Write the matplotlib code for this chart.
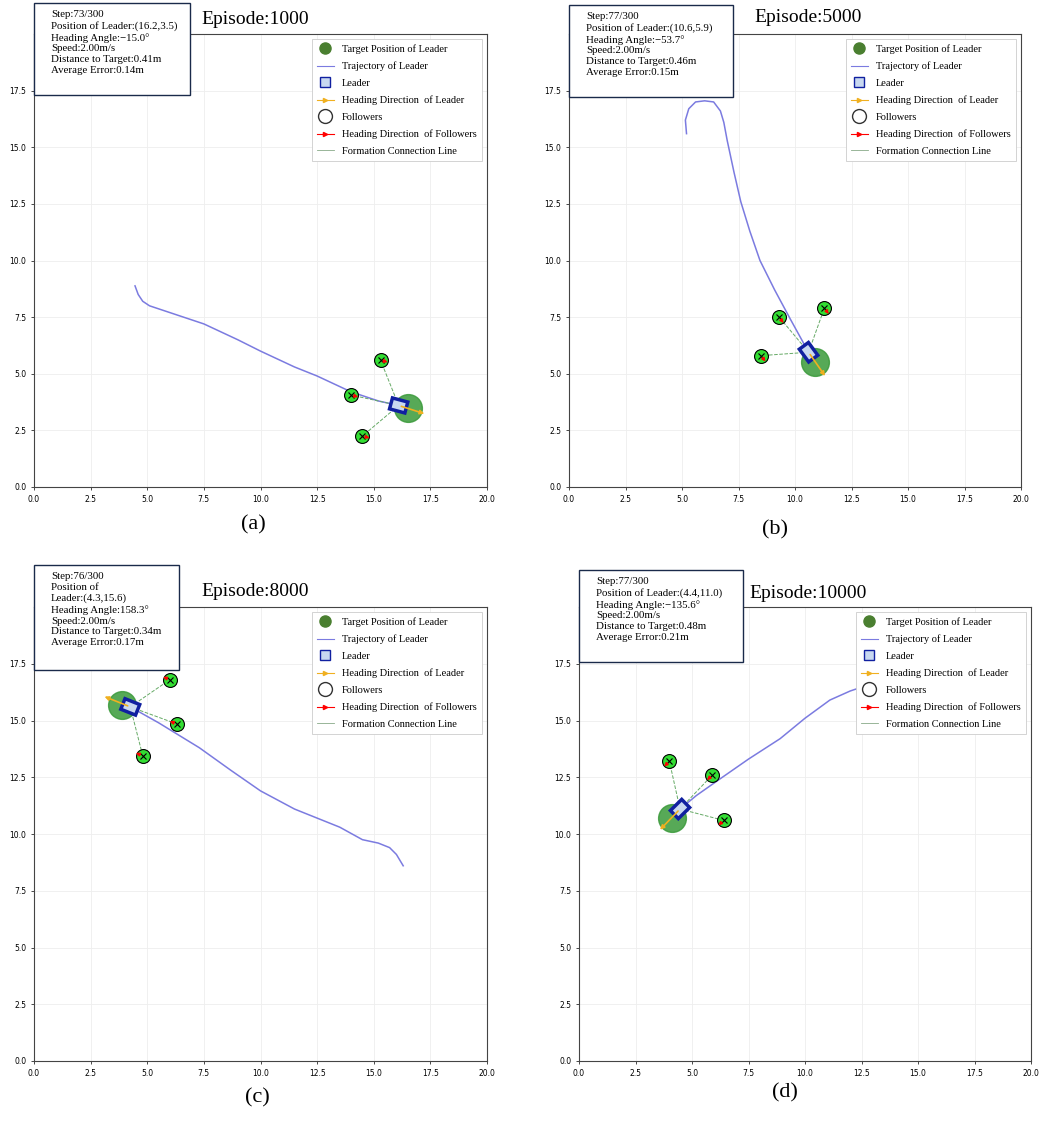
import matplotlib
matplotlib.use("Agg")
import matplotlib.pyplot as plt
from matplotlib.lines import Line2D
from matplotlib.patches import Rectangle
import numpy as np

W, H = 1049, 1121
episodes = ["Episode:1000", "Episode:5000", "Episode:8000", "Episode:10000"]
labels = ["(a)", "(b)", "(c)", "(d)"]
infos = [
    "Step:73/300\nPosition of Leader:(16.2,3.5)\nHeading Angle:\u221215.0\u00b0\nSpeed:2.00m/s\nDistance to Target:0.41m\nAverage Error:0.14m",
    "Step:77/300\nPosition of Leader:(10.6,5.9)\nHeading Angle:\u221253.7\u00b0\nSpeed:2.00m/s\nDistance to Target:0.46m\nAverage Error:0.15m",
    "Step:76/300\nPosition of\nLeader:(4.3,15.6)\nHeading Angle:158.3\u00b0\nSpeed:2.00m/s\nDistance to Target:0.34m\nAverage Error:0.17m",
    "Step:77/300\nPosition of Leader:(4.4,11.0)\nHeading Angle:\u2212135.6\u00b0\nSpeed:2.00m/s\nDistance to Target:0.48m\nAverage Error:0.21m",
]
traj_x = [
    [4.46, 4.6, 4.8, 5.1, 6.0, 7.5, 9.0, 10.0, 11.5, 12.5, 14.0, 15.2, 16.1],
    [5.2, 5.15, 5.3, 5.6, 6.0, 6.4, 6.7, 6.85, 7.0, 7.3, 7.6, 8.0, 8.45, 9.1, 9.8, 10.6],
    [4.25, 5.5, 7.3, 8.7, 10.0, 11.5, 13.5, 14.5, 15.2, 15.7, 16.0, 16.3],
    [4.47, 5.2, 6.2, 7.5, 8.9, 10.0, 11.1, 12.0, 12.9, 13.4],
]
traj_y = [
    [8.88, 8.5, 8.2, 8.0, 7.7, 7.2, 6.5, 6.0, 5.3, 4.9, 4.2, 3.8, 3.6],
    [15.6, 16.2, 16.7, 17.0, 17.05, 17.0, 16.6, 16.1, 15.3, 13.9, 12.6, 11.3, 10.0, 8.7, 7.4, 5.95],
    [15.6, 14.9, 13.8, 12.8, 11.9, 11.1, 10.3, 9.75, 9.6, 9.4, 9.1, 8.6],
    [11.1, 11.7, 12.4, 13.3, 14.2, 15.1, 15.9, 16.3, 16.6, 16.8],
]
leader = [(16.1, 3.6), (10.6, 5.95), (4.25, 15.6), (4.47, 11.1)]
heading = [-15.0, -53.7, 158.3, -135.6]
target = [(16.5, 3.5), (10.9, 5.5), (3.9, 15.7), (4.1, 10.7)]
arrow_end = [(17.35, 3.2), (11.4, 4.8), (3.0, 16.1), (3.5, 10.1)]
followers = [
    [(15.3, 5.6), (14.0, 4.06), (14.5, 2.25)],
    [(9.3, 7.5), (11.3, 7.9), (8.5, 5.8)],
    [(6.0, 16.8), (6.3, 14.85), (4.8, 13.45)],
    [(4.0, 13.2), (5.9, 12.6), (6.4, 10.6)],
]

boxes = [(34, 487, 34, 487), (569, 1021, 34, 487), (34, 487, 607, 1061), (579, 1031, 607, 1061)]
info_pos = [(34, 3, 190, 95), (569, 5, 733, 97), (34, 565, 179, 670), (579, 570, 743, 662)]
title_pos = [(255, 19), (808, 17), (255, 592), (808, 593)]
label_pos = [(253, 525), (775, 530), (257, 1098), (785, 1093)]

serif = ["Liberation Serif", "DejaVu Serif"]
fig = plt.figure(figsize=(W / 100, H / 100), dpi=100)

for i in range(4):
    l, r, t, b = boxes[i]
    ax = fig.add_axes([l / W, 1 - b / H, (r - l) / W, (b - t) / H])
    ax.set_xlim(0, 20)
    ax.set_ylim(0, 20)
    ax.set_xticks(np.arange(0, 20.1, 2.5))
    ax.set_yticks(np.arange(0, 17.6, 2.5))
    ax.tick_params(labelsize=5.5, length=2, width=0.5)
    ax.grid(True, color="#eeeeee", lw=0.6)
    for s in ax.spines.values():
        s.set_linewidth(0.8)
        s.set_color("#444444")
    ax.plot(traj_x[i], traj_y[i], color="#7b7be0", lw=1.1, zorder=2)
    lx, ly = leader[i]
    for fx, fy in followers[i]:
        ax.plot([lx, fx], [ly, fy], ls="--", color="#66aa66", lw=0.7, zorder=2)
    tx, ty = target[i]
    ax.plot(tx, ty, "o", ms=20, color="#3a9a3a", alpha=0.85, zorder=3)
    tr = matplotlib.transforms.Affine2D().rotate_deg_around(lx, ly, heading[i]) + ax.transData
    ax.add_patch(Rectangle((lx - 0.35, ly - 0.25), 0.7, 0.5, facecolor="#c8d8f0",
                           edgecolor="#1020a0", lw=2.5, transform=tr, zorder=4))
    ex, ey = arrow_end[i]
    ax.annotate("", xy=(ex, ey), xytext=(lx, ly),
                arrowprops=dict(arrowstyle="-|>", color="#f0b020", lw=1.2, mutation_scale=6), zorder=5)
    hr = np.deg2rad(heading[i])
    for fx, fy in followers[i]:
        ax.plot(fx, fy, "o", ms=10, mfc="#33dd33", mec="black", mew=0.8, zorder=5)
        ax.plot(fx, fy, "x", ms=4, color="black", mew=0.8, zorder=6)
        ax.annotate("", xy=(fx + 0.45 * np.cos(hr), fy + 0.45 * np.sin(hr)), xytext=(fx, fy),
                    arrowprops=dict(arrowstyle="-|>", color="red", lw=1.0, mutation_scale=5), zorder=7)
    handles = [
        Line2D([], [], ls="", marker="o", ms=8, color="#4a7f30"),
        Line2D([], [], color="#7b7be0", lw=0.8),
        Line2D([], [], ls="", marker="s", ms=7, mfc="#c8d8f0", mec="#1020a0"),
        Line2D([], [], color="#f0b020", lw=0.8, marker=">", ms=3),
        Line2D([], [], ls="", marker="o", ms=10, mfc="white", mec="#333333"),
        Line2D([], [], color="red", lw=0.8, marker=">", ms=3),
        Line2D([], [], color="#88aa88", lw=0.6),
    ]
    names = ["Target Position of Leader", "Trajectory of Leader", "Leader", "Heading Direction  of Leader",
             "Followers", "Heading Direction  of Followers", "Formation Connection Line"]
    leg = ax.legend(handles, names, loc="upper right", prop={"family": serif, "size": 7.5},
                    fancybox=False, framealpha=1, edgecolor="#cccccc", labelspacing=0.72,
                    handlelength=1.6, borderpad=0.5)
    leg.get_frame().set_linewidth(0.6)
    tpx, tpy = title_pos[i]
    fig.text(tpx / W, 1 - tpy / H, episodes[i], ha="center", va="center", fontsize=14, family=serif)
    lpx, lpy = label_pos[i]
    fig.text(lpx / W, 1 - lpy / H, labels[i], ha="center", va="center", fontsize=16, family=serif)
    x0, y0, x1, y1 = info_pos[i]
    fig.add_artist(Rectangle((x0 / W, 1 - y1 / H), (x1 - x0) / W, (y1 - y0) / H,
                             transform=fig.transFigure, facecolor="white", edgecolor="#1a2a4a",
                             lw=1.0, zorder=10))
    fig.text((x0 + 17) / W, 1 - (y0 + 7) / H, infos[i], ha="left", va="top", fontsize=7.8,
             family=serif, linespacing=1.25, zorder=11)

fig.savefig("out.png", dpi=100, facecolor="white")
